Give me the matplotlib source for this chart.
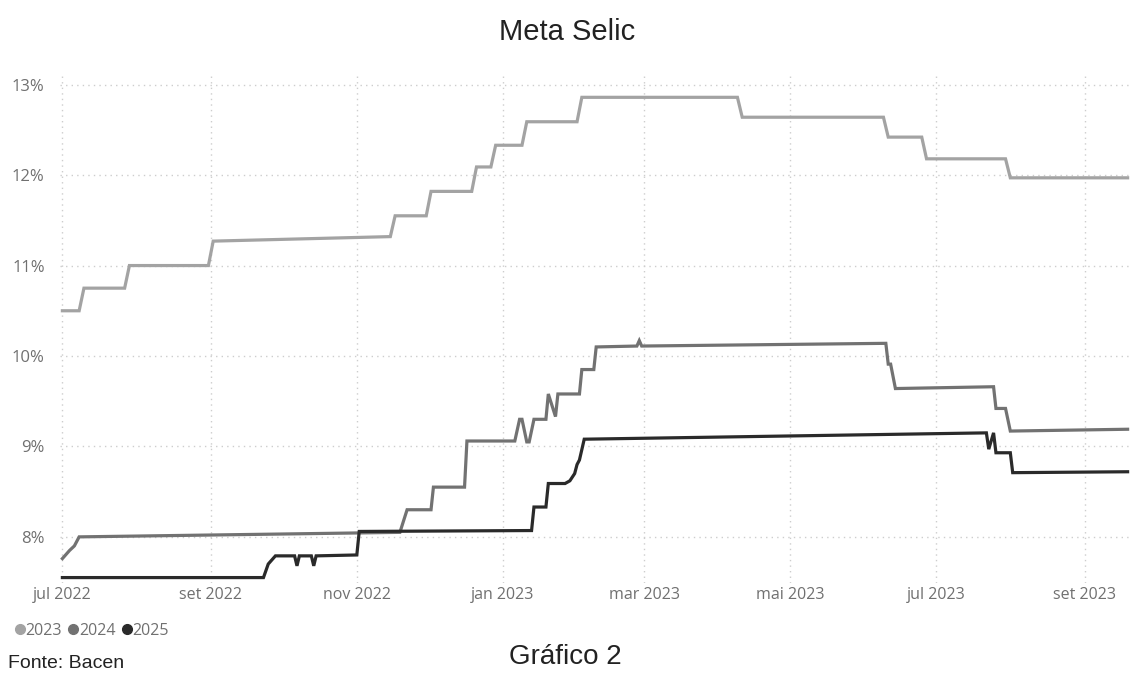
import matplotlib
matplotlib.use("Agg")
import matplotlib.pyplot as plt
import pandas as pd

# ---- data ----
s2023_dates = ["2022-07-01", "2022-07-08", "2022-07-10", "2022-07-27", "2022-07-29",
               "2022-08-31", "2022-09-02", "2022-11-15", "2022-11-17", "2022-11-30",
               "2022-12-02", "2022-12-19", "2022-12-21", "2022-12-27", "2022-12-29",
               "2023-01-09", "2023-01-11", "2023-02-01", "2023-02-03", "2023-04-09",
               "2023-04-11", "2023-06-09", "2023-06-11", "2023-06-25", "2023-06-27",
               "2023-07-30", "2023-08-01", "2023-09-19"]
s2023_values = [10.50, 10.50, 10.75, 10.75, 11.00,
                11.00, 11.27, 11.32, 11.55, 11.55,
                11.82, 11.82, 12.09, 12.09, 12.33,
                12.33, 12.59, 12.59, 12.86, 12.86,
                12.64, 12.64, 12.42, 12.42, 12.18,
                12.18, 11.97, 11.97]

s2024_dates = ["2022-07-01", "2022-07-04", "2022-07-06", "2022-07-08", "2022-11-19",
               "2022-11-22", "2022-12-02", "2022-12-03", "2022-12-16", "2022-12-17",
               "2023-01-06", "2023-01-08", "2023-01-09", "2023-01-11", "2023-01-12",
               "2023-01-14", "2023-01-19", "2023-01-20", "2023-01-23", "2023-01-24",
               "2023-02-02", "2023-02-03", "2023-02-08", "2023-02-09", "2023-02-26",
               "2023-02-27", "2023-02-28", "2023-06-10", "2023-06-11", "2023-06-12",
               "2023-06-14", "2023-07-25", "2023-07-26", "2023-07-30", "2023-08-01",
               "2023-09-19"]
s2024_values = [7.76, 7.85, 7.90, 8.00, 8.05,
                8.30, 8.30, 8.55, 8.55, 9.06,
                9.06, 9.30, 9.30, 9.05, 9.05,
                9.30, 9.30, 9.58, 9.33, 9.58,
                9.58, 9.85, 9.85, 10.10, 10.11,
                10.17, 10.11, 10.14, 9.91, 9.91,
                9.64, 9.66, 9.42, 9.42, 9.17,
                9.19]

s2025_dates = ["2022-07-01", "2022-09-23", "2022-09-25", "2022-09-28", "2022-10-06",
               "2022-10-07", "2022-10-08", "2022-10-13", "2022-10-14", "2022-10-15",
               "2022-11-01", "2022-11-02", "2023-01-13", "2023-01-14", "2023-01-19",
               "2023-01-20", "2023-01-27", "2023-01-29", "2023-01-31", "2023-02-01",
               "2023-02-02", "2023-02-04", "2023-07-22", "2023-07-23", "2023-07-25",
               "2023-07-26", "2023-08-01", "2023-08-02", "2023-09-19"]
s2025_values = [7.55, 7.55, 7.70, 7.79, 7.79,
                7.68, 7.79, 7.79, 7.68, 7.79,
                7.80, 8.06, 8.07, 8.33, 8.33,
                8.59, 8.59, 8.62, 8.70, 8.80,
                8.85, 9.08, 9.15, 8.97, 9.15,
                8.93, 8.93, 8.71, 8.72]

series_names = ["2023", "2024", "2025"]
series_colors = ["#a3a3a3", "#727272", "#2a2a2a"]

tick_dates = ["2022-07-01", "2022-09-01", "2022-11-01", "2023-01-01",
              "2023-03-01", "2023-05-01", "2023-07-01", "2023-09-01"]
tick_labels = ["jul 2022", "set 2022", "nov 2022", "jan 2023",
               "mar 2023", "mai 2023", "jul 2023", "set 2023"]
y_ticks = [8, 9, 10, 11, 12, 13]

# ---- figure ----
W, H = 1134, 681
fig = plt.figure(figsize=(W / 100, H / 100), dpi=100)
fig.patch.set_facecolor("white")
ax = fig.add_axes([60 / W, 1 - 583 / H, (1130 - 60) / W, (583 - 72) / H])

all_series = [(s2023_dates, s2023_values), (s2024_dates, s2024_values), (s2025_dates, s2025_values)]
for (d, v), name, c in zip(all_series, series_names, series_colors):
    ax.plot(pd.to_datetime(d), v, color=c, lw=2.3, solid_joinstyle="miter", label=name, zorder=3)

ax.set_xlim(pd.Timestamp("2022-06-30"), pd.Timestamp("2023-09-20"))
ax.set_ylim(7.49, 13.14)

ax.set_xticks(pd.to_datetime(tick_dates))
ax.set_xticklabels(tick_labels)
ax.set_yticks(y_ticks)
ax.set_yticklabels([f"{t}%" for t in y_ticks])

tick_font = "Open Sans"
for lab in ax.get_xticklabels():
    lab.set_fontfamily(tick_font)
    lab.set_fontsize(11.5)
    lab.set_color("#707070")
for lab in ax.get_yticklabels():
    lab.set_fontfamily(tick_font)
    lab.set_fontsize(12)
    lab.set_color("#707070")
ax.tick_params(axis="both", length=0)
ax.tick_params(axis="y", pad=11)
ax.tick_params(axis="x", pad=3)

ax.grid(True, color="#cdcdcd", linestyle=(0, (1, 3)), linewidth=1.0, zorder=0)
for sp in ax.spines.values():
    sp.set_visible(False)

# title and texts
fig.text(567 / W, 1 - 32 / H, "Meta Selic", ha="center", va="center",
         fontsize=21, family="Liberation Sans", color="#222222")
fig.text(565 / W, 1 - 657 / H, "Gráfico 2", ha="center", va="center",
         fontsize=20, family="Liberation Sans", color="#222222")
fig.text(8 / W, 1 - 664 / H, "Fonte: Bacen", ha="left", va="center",
         fontsize=14, family="Liberation Sans", color="#222222")

# legend
leg = fig.legend(handles=[plt.Line2D([], [], marker="o", ls="", color=c, markersize=7)
                          for c in series_colors],
                 labels=series_names, loc="center left",
                 bbox_to_anchor=(16 / W, 1 - 631 / H), ncol=3, frameon=False,
                 handlelength=0.5, handletextpad=0.1, columnspacing=0.45,
                 borderaxespad=0, borderpad=0,
                 prop={"family": tick_font, "size": 11.5})
for t in leg.get_texts():
    t.set_color("#707070")

fig.savefig("out.png", dpi=100, facecolor="white")
